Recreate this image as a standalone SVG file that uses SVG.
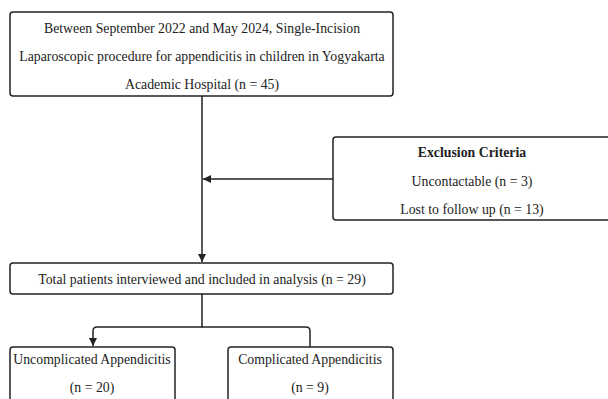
<svg xmlns="http://www.w3.org/2000/svg" width="608" height="399" viewBox="0 0 608 399">
<style>
.box{fill:#fff;stroke:#222;stroke-width:1.5}
.t{font-family:"Liberation Serif","DejaVu Serif",serif;font-size:13.8px;fill:#222;text-anchor:middle}
.b{font-weight:bold}
.c{fill:none;stroke:#222;stroke-width:1.5}
</style>
<defs>
<marker id="ah" viewBox="0 0 10 10" refX="10" refY="5" markerWidth="8" markerHeight="8" markerUnits="userSpaceOnUse" orient="auto">
<path d="M0,0 L10,5 L0,10 Z" fill="#222"/>
</marker>
</defs>
<g id="connectors">
<path class="c" d="M202,96 V262" marker-end="url(#ah)"/>
<path class="c" d="M333,179 H203" marker-end="url(#ah)"/>
<path class="c" d="M202,294 V327 H97 Q93,327 93,331 V346" marker-end="url(#ah)"/>
<path class="c" d="M202,327 H306 Q310,327 310,331 V347"/>
</g>
<g id="n1">
<rect class="box" x="10" y="12" width="383" height="84" rx="3"/>
<text class="t" x="202" y="33">Between September 2022 and May 2024, Single-Incision</text>
<text class="t" x="202" y="61">Laparoscopic procedure for appendicitis in children in Yogyakarta</text>
<text class="t" x="202" y="89">Academic Hospital (n = 45)</text>
</g>
<g id="n2">
<rect class="box" x="333" y="137" width="290" height="83" rx="3"/>
<text class="t b" x="472" y="157">Exclusion Criteria</text>
<text class="t" x="472" y="186">Uncontactable (n = 3)</text>
<text class="t" x="472" y="214">Lost to follow up (n = 13)</text>
</g>
<g id="n3">
<rect class="box" x="10" y="263" width="383" height="31" rx="3"/>
<text class="t" x="202" y="284">Total patients interviewed and included in analysis (n = 29)</text>
</g>
<g id="n4">
<rect class="box" x="10" y="347" width="165" height="70" rx="3"/>
<text class="t" x="92" y="364">Uncomplicated Appendicitis</text>
<text class="t" x="92" y="392">(n = 20)</text>
</g>
<g id="n5">
<rect class="box" x="228" y="347" width="165" height="70" rx="3"/>
<text class="t" x="310" y="364">Complicated Appendicitis</text>
<text class="t" x="310" y="392">(n = 9)</text>
</g>
</svg>
